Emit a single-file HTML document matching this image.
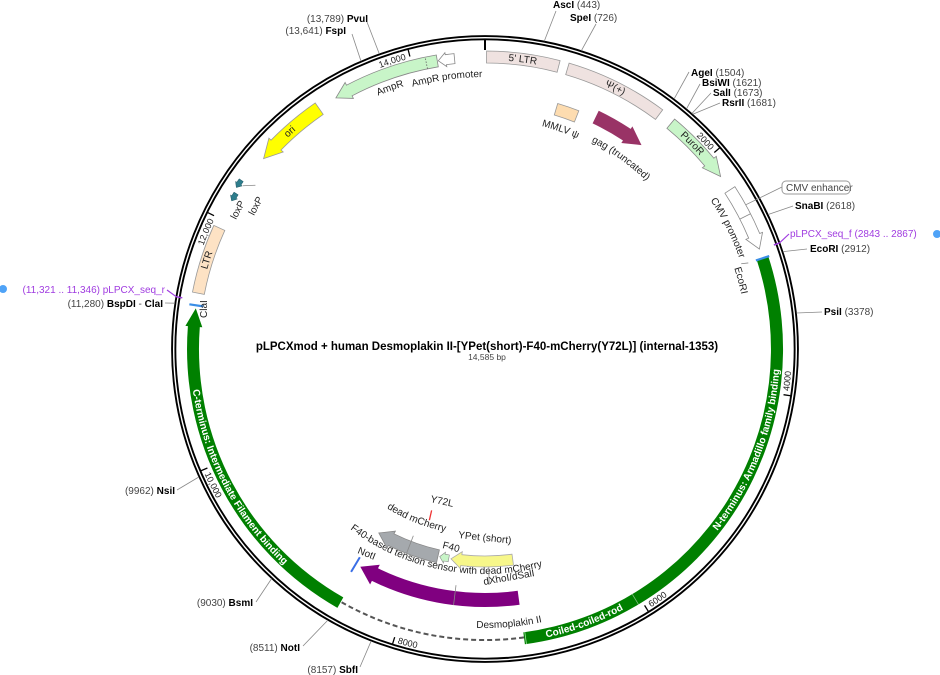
<!DOCTYPE html>
<html><head><meta charset="utf-8"><style>
html,body{margin:0;padding:0;background:#fff;}
svg{display:block;font-family:"Liberation Sans","DejaVu Sans",sans-serif;}
.l{font-size:10px;fill:#222;}
.b{font-weight:bold;fill:#000;}
.n{fill:#444;}
.p{fill:#a03ce0;}
.t{font-size:9px;fill:#222;}
</style></head><body>
<svg id="s" width="940" height="675" viewBox="0 0 940 675" xmlns="http://www.w3.org/2000/svg">
<defs id="d"></defs>
<g id="g"></g>
<g class="l" id="labels">
<text x="553" y="8"><tspan class="b">AscI</tspan><tspan class="n"> (443)</tspan></text>
<text x="570" y="21"><tspan class="b">SpeI</tspan><tspan class="n"> (726)</tspan></text>
<text x="691" y="76"><tspan class="b">AgeI</tspan><tspan class="n"> (1504)</tspan></text>
<text x="702" y="86"><tspan class="b">BsiWI</tspan><tspan class="n"> (1621)</tspan></text>
<text x="713" y="96"><tspan class="b">SalI</tspan><tspan class="n"> (1673)</tspan></text>
<text x="722" y="106"><tspan class="b">RsrII</tspan><tspan class="n"> (1681)</tspan></text>
<text x="368" y="22" text-anchor="end"><tspan class="n">(13,789) </tspan><tspan class="b">PvuI</tspan></text>
<text x="346" y="34" text-anchor="end"><tspan class="n">(13,641) </tspan><tspan class="b">FspI</tspan></text>
<text x="786" y="191" class="n">CMV enhancer</text>
<text x="795" y="209"><tspan class="b">SnaBI</tspan><tspan class="n"> (2618)</tspan></text>
<text x="790" y="237" class="p">pLPCX_seq_f  (2843 .. 2867)</text>
<text x="810" y="252"><tspan class="b">EcoRI</tspan><tspan class="n"> (2912)</tspan></text>
<text x="824" y="315"><tspan class="b">PsiI</tspan><tspan class="n"> (3378)</tspan></text>
<text x="165" y="293" text-anchor="end" class="p">(11,321 .. 11,346)  pLPCX_seq_r</text>
<text x="163" y="307" text-anchor="end"><tspan class="n">(11,280) </tspan><tspan class="b">BspDI</tspan><tspan class="n"> - </tspan><tspan class="b">ClaI</tspan></text>
<text x="175" y="494" text-anchor="end"><tspan class="n">(9962) </tspan><tspan class="b">NsiI</tspan></text>
<text x="253" y="606" text-anchor="end"><tspan class="n">(9030) </tspan><tspan class="b">BsmI</tspan></text>
<text x="300" y="651" text-anchor="end"><tspan class="n">(8511) </tspan><tspan class="b">NotI</tspan></text>
<text x="358" y="673" text-anchor="end"><tspan class="n">(8157) </tspan><tspan class="b">SbfI</tspan></text>
</g>
<rect x="782" y="181" width="68" height="13" rx="4" fill="none" stroke="#999" stroke-width="1"/>
<circle cx="937" cy="234" r="4" fill="#4fa3f7"/>
<circle cx="3" cy="289" r="4" fill="#4fa3f7"/>
<text x="487" y="350" text-anchor="middle" style="font-size:11.5px;font-weight:bold;fill:#000">pLPCXmod + human Desmoplakin II-[YPet(short)-F40-mCherry(Y72L)] (internal-1353)</text>
<text x="487" y="360" text-anchor="middle" style="font-size:8.5px;fill:#444">14,585 bp</text>
<g class="l">
<text x="430" y="502" transform="rotate(12 430 502)">Y72L</text>
<text x="442" y="548" transform="rotate(14 442 548)">F40</text>
<text x="458" y="538" transform="rotate(6 458 538)">YPet (short)</text>
<text x="357" y="553" transform="rotate(22 357 553)">NotI</text>
<text x="484" y="585" transform="rotate(-10 484 585)">dXhoI/dSalI</text>
<text x="236" y="220" transform="rotate(-62 236 220)">loxP</text>
<text x="254" y="216" transform="rotate(-62 254 216)">loxP</text>
<text x="207" y="318" transform="rotate(-90 207 318)">ClaI</text>
</g>
<script>
(function(){
const cx=485, cy=349, NS="http://www.w3.org/2000/svg";
const g=document.getElementById('g'), d=document.getElementById('d');
function P(a,r){const t=a*Math.PI/180;return [cx+r*Math.sin(t), cy-r*Math.cos(t)];}
function f(p){return p[0].toFixed(1)+' '+p[1].toFixed(1);}
function el(tag,attrs,parent,txt){const e=document.createElementNS(NS,tag);for(const k in attrs)e.setAttribute(k,attrs[k]);if(txt!==undefined)e.textContent=txt;(parent||g).appendChild(e);return e;}
function band(a1,a2,r1,r2){const L=(a2-a1)>180?1:0;
 return `M${f(P(a1,r2))} A${r2} ${r2} 0 ${L} 1 ${f(P(a2,r2))} L${f(P(a2,r1))} A${r1} ${r1} 0 ${L} 0 ${f(P(a1,r1))} Z`;}
function arrow(a1,a2,r1,r2,dir,hl,hw){const rm=(r1+r2)/2;
 if(dir==1){const b=a2-hl,L=(b-a1)>180?1:0;
  return `M${f(P(a1,r2))} A${r2} ${r2} 0 ${L} 1 ${f(P(b,r2))} L${f(P(b,r2+hw))} L${f(P(a2,rm))} L${f(P(b,r1-hw))} L${f(P(b,r1))} A${r1} ${r1} 0 ${L} 0 ${f(P(a1,r1))} Z`;}
 else {const b=a1+hl,L=(a2-b)>180?1:0;
  return `M${f(P(a2,r2))} A${r2} ${r2} 0 ${L} 0 ${f(P(b,r2))} L${f(P(b,r2+hw))} L${f(P(a1,rm))} L${f(P(b,r1-hw))} L${f(P(b,r1))} A${r1} ${r1} 0 ${L} 1 ${f(P(a2,r1))} Z`;}}
let tid=0;
function tarc(txt,r,as,ae,opt){opt=opt||{};const id='tp'+(tid++);const sw=ae>as?1:0;const L=Math.abs(ae-as)>180?1:0;
 el('path',{id:id,d:`M${f(P(as,r))} A${r} ${r} 0 ${L} ${sw} ${f(P(ae,r))}`,fill:'none'},d);
 const t=el('text',{'font-size':opt.size||10,fill:opt.color||'#222','font-weight':opt.bold?'bold':'normal'});
 const anchor=opt.anchor||'middle';
 const tp=el('textPath',{href:'#'+id,startOffset:anchor=='middle'?'50%':(anchor=='end'?'100%':'0%'),'text-anchor':anchor},t,txt);
 tp.setAttributeNS('http://www.w3.org/1999/xlink','xlink:href','#'+id);}
function line(a,b,col,w){el('line',{x1:a[0],y1:a[1],x2:b[0],y2:b[1],stroke:col||'#888','stroke-width':w||0.8});}

el('circle',{cx:cx,cy:cy,r:311.3,fill:'none',stroke:'#000','stroke-width':5.2});
el('circle',{cx:cx,cy:cy,r:311.3,fill:'none',stroke:'#fff','stroke-width':1.4});
line(P(0,309),P(0,299),'#000',2);
const rs=[[10.9,[556,11]],[17.9,[596,24]],[37.1,[689,72]],[40,[700,84]],[41.3,[711,93]],[41.5,[720,103]],
[336.7,[352,34]],[340.3,[367,22]],[64.6,[793,206]],[71.9,[807,249]],[83.4,[822,312]],
[245.9,[177,490]],[222.9,[256,602]],[210.1,[303,646]],[201.3,[360,667]],[278.4,[165,303]]];
rs.forEach(s=>line(P(s[0],313.5),s[1],'#888',0.8));
line(P(70.2,313),[789,234],'#a03ce0',1.2);
line(P(70.2,313),P(70.2,307),'#a03ce0',1.5);
line(P(279.6,313),[167,290],'#a03ce0',1.2);
line(P(279.6,313),P(279.6,307),'#a03ce0',1.5);
line(P(61,292),[782,187],'#888',0.8);
const tk=[[49.4,'2000',1],[98.7,'4000',-1],[148.1,'6000',-1],[197.4,'8000',-1],[246.8,'10,000',-1],[296.2,'12,000',1],[345.6,'14,000',1]];
tk.forEach(t=>{line(P(t[0],309),P(t[0],302),'#000',1.3);
 if(t[2]==1) tarc(t[1],300,t[0]-30,t[0]-0.8,{size:9,anchor:'end'});
 else tarc(t[1],307,t[0]-0.8,t[0]-30,{size:9,anchor:'start'});});

const R1=286,R2=298;
el('path',{d:band(0.3,14.6,R1,R2),fill:'#efe2e0',stroke:'#999','stroke-width':0.8});
tarc("5' LTR",289,0.3,14.6);
el('path',{d:band(16.4,36.6,R1,R2),fill:'#efe2e0',stroke:'#999','stroke-width':0.8});
tarc("\u03A8(+)",289,16.4,36.6);
el('path',{d:arrow(39.5,53.8,R1,R2,1,3.6,3),fill:'#c8f5c8',stroke:'#888','stroke-width':0.8});
tarc("PuroR",289,39.5,51);
el('path',{d:arrow(57,70,R1,R2,1,2.8,3),fill:'#fff',stroke:'#888','stroke-width':0.8});
line(P(63,R1),P(63,R2),'#888',0.8);
tarc("CMV promoter",270,50,77,{size:10});
tarc("EcoRI",262,68,82,{size:10});
line(P(71.9,277),P(71.6,270),'#888',0.8);
el('path',{d:band(71.9,172.3,R1,R2),fill:'#008000'});
line(P(149,R1),P(149,R2),'#7fbf7f',0.8);
line(P(172,R1),P(172,R2),'#9fdf9f',0.8);
tarc("N-terminus: Armadillo family binding",295,140,82,{size:10,color:'#fff',bold:1});
tarc("Coiled-coiled-rod",295,172,148,{size:10,color:'#fff',bold:1});
el('path',{d:`M${f(P(172.3,291))} A291 291 0 0 1 ${f(P(209.7,291))}`,fill:'none',stroke:'#555','stroke-width':2,'stroke-dasharray':'5 3'});
el('path',{d:arrow(209.7,278,R1,R2,1,3.6,2.5),fill:'#008000'});
tarc("C-terminus: Intermediate Filament binding",295,273,212,{size:10,color:'#fff',bold:1});
line(P(71.9,R1-1),P(71.9,R2+1),'#3a8ee6',2.2);
line(P(278.6,R1-1),P(278.6,R2+1),'#3a8ee6',2.2);
tarc("Desmoplakin II",279,195,155,{size:10});
el('path',{d:band(281,294.5,R1,R2),fill:'#fde2c4',stroke:'#999','stroke-width':0.8});
tarc("LTR",289,281,294.5);
el('path',{d:arrow(300.3,302,291,296,-1,0.9,1.5),fill:'#2e7d8c',stroke:'#1f5560','stroke-width':0.5});
el('path',{d:arrow(303,304.7,294,299,-1,0.9,1.5),fill:'#2e7d8c',stroke:'#1f5560','stroke-width':0.5});
line(P(304,292),P(305.5,282),'#888',0.8);
el('path',{d:arrow(310.7,325.4,R1-1,R2+1,-1,3.6,3),fill:'#ffff00',stroke:'#999','stroke-width':0.8});
tarc("ori",289,310.7,325.4,{size:10});
el('path',{d:arrow(329.3,350.6,R1,R2,-1,3,3),fill:'#c8f5c8',stroke:'#888','stroke-width':0.8});
el('path',{d:`M${f(P(348.4,R1))} L${f(P(348.4,R2))}`,stroke:'#666','stroke-width':0.8,'stroke-dasharray':'1.5 1.5'});
el('path',{d:arrow(350.8,354,R1+1,R2-1,-1,1.5,2),fill:'#fff',stroke:'#888','stroke-width':0.8});
tarc("AmpR",275,333,347,{size:10});
tarc("AmpR promoter",272,342,362,{size:10});
el('path',{d:band(16.5,21.5,244,256),fill:'#fddcb0',stroke:'#999','stroke-width':0.8});
tarc("MMLV \u03C8",230,13,25,{size:10});
el('path',{d:arrow(25.5,37.5,250,264,1,4,3),fill:'#993366'});
tarc("gag (truncated)",233,24,47,{size:10});
el('path',{d:arrow(172.3,209.8,244,258,1,3.8,4),fill:'#800080'});
line(P(211,243),P(211,260),'#3a6ee6',2);
tarc("F40-based tension sensor with dead mCherry",225,222,160,{size:10});
el('path',{d:arrow(172.5,189.2,207,218,1,2.8,3),fill:'#f7f78a',stroke:'#aaa','stroke-width':0.8});
el('path',{d:arrow(189.8,192.3,209,216,1,1.3,2),fill:'#c8f5c8',stroke:'#888','stroke-width':0.6});
el('path',{d:arrow(192.8,210,206,219,1,3.8,3),fill:'#a5a9ad',stroke:'#888','stroke-width':0.8});
tarc("dead mCherry",187,222,182,{size:10});
line(P(198.3,170),P(198,180),'#e33',1.3);
line(P(179,218),P(179,236),'#888',0.8);
line(P(201,219),P(201,200),'#888',0.8);
line(P(187,258),P(187,238),'#888',0.8);
})();
</script>
</svg>
</body></html>
